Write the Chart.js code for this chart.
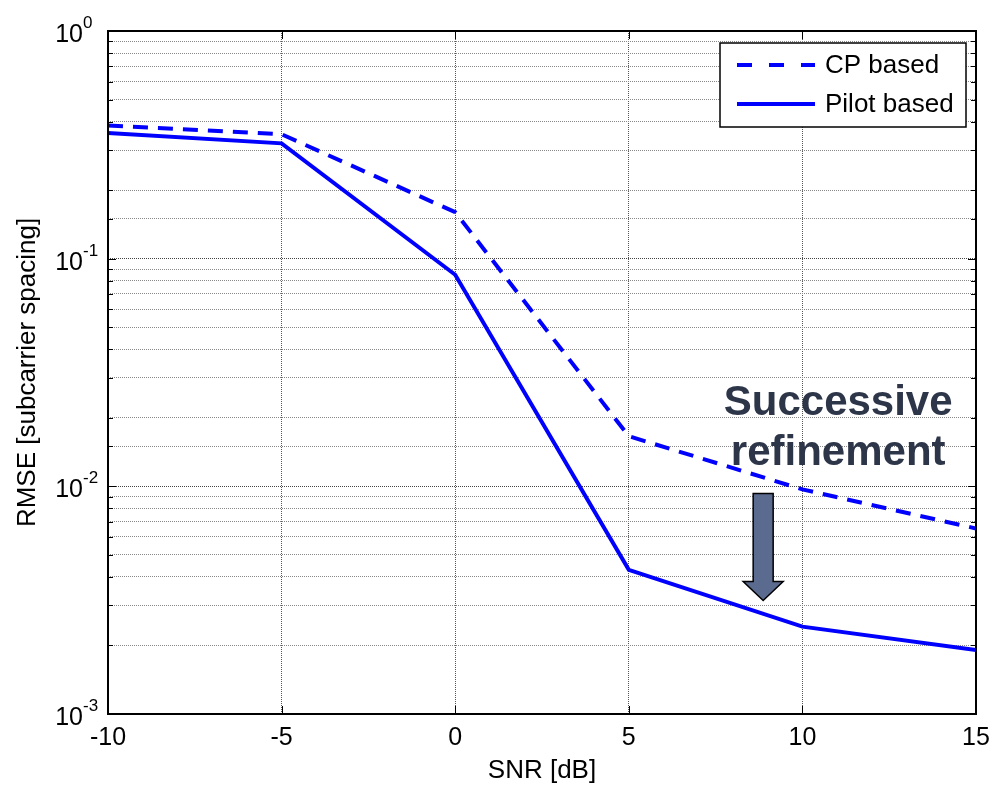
<!DOCTYPE html>
<html>
<head>
<meta charset="utf-8">
<script src="https://cdn.jsdelivr.net/npm/chart.js@4.4.1/dist/chart.umd.min.js"></script>
<style>
  html, body { margin: 0; padding: 0; background: #fff; }
  #wrap { width: 993px; height: 786px; position: relative; }
</style>
</head>
<body>
<div id="wrap"><canvas id="rmseChart"></canvas></div>
<script>
// SNR in dB and RMSE values
const snrDb = [-10, -5, 0, 5, 10, 15];
const cpBased = [0.385, 0.352, 0.160, 0.0166, 0.0097, 0.00653];
const pilotBased = [0.356, 0.321, 0.085, 0.0043, 0.00242, 0.00191];
const seriesNames = ['CP based', 'Pilot based'];
const xTicks = [-10, -5, 0, 5, 10, 15];
const yDecades = [-3, -2, -1, 0];
const noteLines = ['Successive', 'refinement'];
const arrowAt = { x: 8.87, yTop: 0.0093, yTip: 0.00315 };

const FONT = 'Liberation Sans, Arial, sans-serif';
const BLUE = '#0000ff';

// frame, inward ticks, y labels with exponents, legend, note + arrow
const figurePlugin = {
  id: 'figure',
  afterDraw(chart) {
    const ctx = chart.ctx;
    const a = chart.chartArea;
    const xs = chart.scales.x;
    const ys = chart.scales.y;
    ctx.save();

    // ticks
    ctx.strokeStyle = '#000';
    ctx.lineWidth = 1;
    ctx.beginPath();
    xTicks.forEach(v => {
      const px = Math.round(xs.getPixelForValue(v)) + 0.5;
      ctx.moveTo(px, a.bottom); ctx.lineTo(px, a.bottom - 8);
      ctx.moveTo(px, a.top); ctx.lineTo(px, a.top + 8);
    });
    ys.ticks.forEach(t => {
      const py = Math.round(ys.getPixelForValue(t.value)) + 0.5;
      const major = Math.abs(Math.log10(t.value) - Math.round(Math.log10(t.value))) < 1e-6;
      const len = major ? 8 : 5;
      ctx.moveTo(a.left, py); ctx.lineTo(a.left + len, py);
      ctx.moveTo(a.right, py); ctx.lineTo(a.right - len, py);
    });
    ctx.stroke();

    // frame
    ctx.lineWidth = 2;
    ctx.strokeRect(a.left, a.top, a.right - a.left, a.bottom - a.top);

    // y tick labels 10^n
    ctx.fillStyle = '#000';
    ctx.textBaseline = 'alphabetic';
    yDecades.forEach(d => {
      const py = ys.getPixelForValue(Math.pow(10, d));
      ctx.font = '25px ' + FONT;
      ctx.textAlign = 'right';
      ctx.fillText('10', a.left - 25, py + 11);
      ctx.font = '17px ' + FONT;
      ctx.textAlign = 'left';
      ctx.fillText(String(d), a.left - 25, py - 3);
    });

    // legend
    const lx = a.right - 256, ly = a.top + 12, lw = 246, lh = 84;
    ctx.fillStyle = '#fff';
    ctx.fillRect(lx, ly, lw, lh);
    ctx.lineWidth = 1.5;
    ctx.strokeStyle = '#000';
    ctx.strokeRect(lx, ly, lw, lh);
    chart.data.datasets.forEach((ds, i) => {
      const cy = ly + 22 + i * 39;
      ctx.strokeStyle = ds.borderColor;
      ctx.lineWidth = ds.borderWidth;
      ctx.setLineDash(ds.borderDash ? [15, 17] : []);
      ctx.beginPath();
      ctx.moveTo(lx + 17, cy); ctx.lineTo(lx + 95, cy);
      ctx.stroke();
      ctx.setLineDash([]);
      ctx.fillStyle = '#000';
      ctx.font = '26px ' + FONT;
      ctx.textAlign = 'left';
      ctx.textBaseline = 'middle';
      ctx.fillText(ds.label, lx + 105, cy + 1);
    });

    // annotation text
    const ax = xs.getPixelForValue(arrowAt.x);
    const ayTop = ys.getPixelForValue(arrowAt.yTop);
    const ayTip = ys.getPixelForValue(arrowAt.yTip);
    ctx.fillStyle = '#2d3549';
    ctx.font = 'bold 42px ' + FONT;
    ctx.textAlign = 'center';
    ctx.textBaseline = 'alphabetic';
    ctx.fillText(noteLines[0], ax + 75, ayTop - 79);
    ctx.fillText(noteLines[1], ax + 75, ayTop - 29);

    // arrow
    const sw = 10, hw = 20, hh = 19;
    ctx.beginPath();
    ctx.moveTo(ax - sw, ayTop);
    ctx.lineTo(ax + sw, ayTop);
    ctx.lineTo(ax + sw, ayTip - hh);
    ctx.lineTo(ax + hw, ayTip - hh);
    ctx.lineTo(ax, ayTip);
    ctx.lineTo(ax - hw, ayTip - hh);
    ctx.lineTo(ax - sw, ayTip - hh);
    ctx.closePath();
    ctx.fillStyle = '#5b6a8f';
    ctx.fill();
    ctx.strokeStyle = '#000';
    ctx.lineWidth = 1.5;
    ctx.stroke();

    ctx.restore();
  }
};

new Chart(document.getElementById('rmseChart').getContext('2d'), {
  type: 'line',
  data: {
    datasets: [
      {
        label: seriesNames[0],
        data: snrDb.map((x, i) => ({ x: x, y: cpBased[i] })),
        borderColor: BLUE,
        borderWidth: 4,
        borderDash: [15, 10],
        pointRadius: 0,
        fill: false,
        tension: 0
      },
      {
        label: seriesNames[1],
        data: snrDb.map((x, i) => ({ x: x, y: pilotBased[i] })),
        borderColor: BLUE,
        borderWidth: 4,
        pointRadius: 0,
        fill: false,
        tension: 0
      }
    ]
  },
  options: {
    responsive: true,
    maintainAspectRatio: false,
    animation: false,
    layout: { padding: { top: 31, right: 17, left: 0, bottom: 0 } },
    plugins: {
      legend: { display: false },
      tooltip: { enabled: false }
    },
    scales: {
      x: {
        type: 'linear',
        min: -10,
        max: 15,
        afterBuildTicks: s => { s.ticks = xTicks.map(v => ({ value: v })); },
        ticks: {
          color: '#000',
          font: { family: FONT, size: 25 },
          padding: 9,
          maxRotation: 0
        },
        grid: { color: '#555', lineWidth: 1, drawTicks: false },
        border: { display: false, dash: [1, 1] },
        title: {
          display: true,
          text: 'SNR [dB]',
          color: '#000',
          font: { family: FONT, size: 26 },
          padding: { top: 4, bottom: 0 }
        },
        afterFit: s => { s.height = 72; s.paddingLeft = 0; s.paddingRight = 0; }
      },
      y: {
        type: 'logarithmic',
        min: 0.001,
        max: 1,
        ticks: { display: false },
        grid: {
          color: ctx => {
            const v = ctx.tick ? ctx.tick.value : 1;
            const m = Math.abs(Math.log10(v) - Math.round(Math.log10(v))) < 1e-6;
            return m ? '#444' : '#888';
          },
          lineWidth: 1,
          drawTicks: false
        },
        border: { display: false, dash: [1, 1] },
        title: {
          display: true,
          text: 'RMSE [subcarrier spacing]',
          color: '#000',
          font: { family: FONT, size: 26 },
          padding: { top: 12, bottom: 0 }
        },
        afterFit: s => { s.width = 108; s.paddingTop = 0; s.paddingBottom = 0; }
      }
    }
  },
  plugins: [figurePlugin]
});
</script>
</body>
</html>
